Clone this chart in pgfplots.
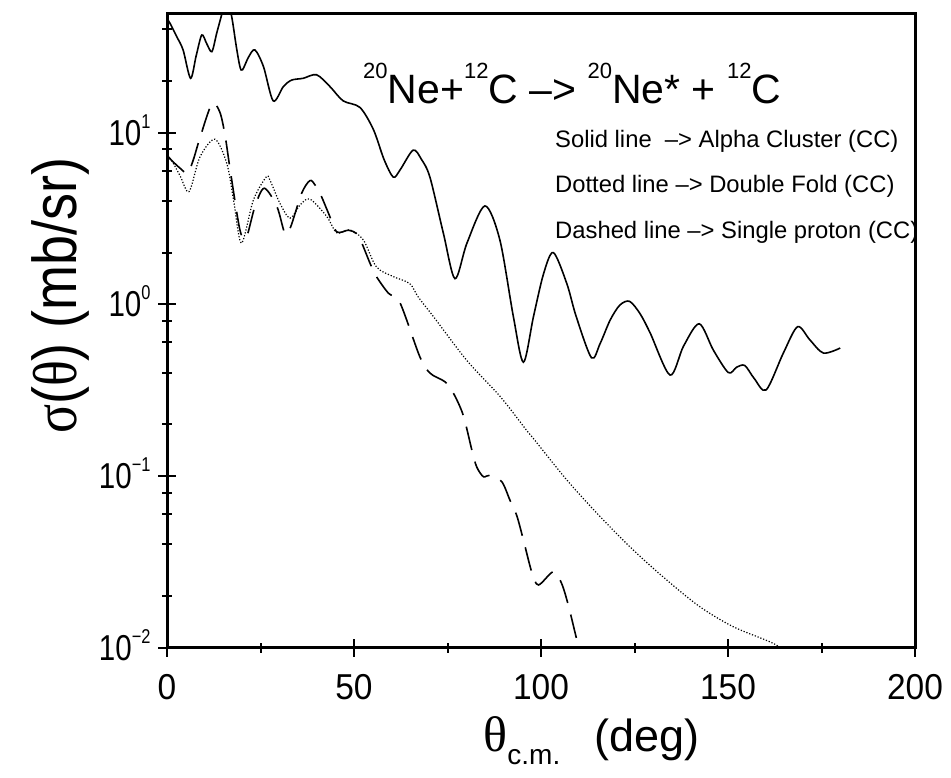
\documentclass[border=0pt]{standalone}
\usepackage{pgfplots}
\pgfplotsset{compat=1.18}
\usepackage{fontspec}
\setmainfont{Liberation Sans}
\newfontfamily\symf{Liberation Serif}
\newfontfamily\condlab{Liberation Sans}[FakeStretch=0.87]
\newfontfamily\condsymf{Liberation Serif}[FakeStretch=0.87]
\newfontfamily\condtick{Liberation Sans}[FakeStretch=0.93]
\newfontfamily\condytick{Liberation Sans}[FakeStretch=0.82]
\newcommand{\fs}[1]{\fontsize{#1}{#1}\selectfont}
\newcommand{\tl}[1]{10\raisebox{17pt}{\fs{20}#1}}

\begin{document}
\begin{tikzpicture}[x=1pt,y=1pt]
\useasboundingbox (0,0) rectangle (951,778);
\begin{axis}[
  at={(167pt,130.3pt)}, anchor=south west,
  scale only axis, width=748pt, height=634.4pt,
  xmin=0, xmax=200, ymode=log, ymin=0.01, ymax=49.5,
  axis line style={line width=3pt},
  xtick={0,50,100,150,200}, xticklabels={0,50,100,150,200},
  minor xtick={25,75,125,175},
  ytick={0.01,0.1,1,10},
  yticklabels={\tl{−2},\tl{−1},\tl{0},\tl{1}},
  minor ytick={0.02,0.04,0.06,0.08,0.2,0.4,0.6,0.8,2,4,6,8,20,40},
  tick align=center, tick pos=left,
  major tick length=18pt, minor tick length=10pt,
  every tick/.append style={line width=2pt, black},
  xticklabel style={font=\condtick\fs{36}, anchor=north, yshift=-14pt},
  yticklabel style={font=\condytick\fs{36}, anchor=base east, yshift=-12.5pt, xshift=-4pt},
  xlabel={{\symf\fs{50}θ}\raisebox{-13pt}{\fs{28}c.m.}\hspace{34pt}{\fs{45}(deg)}},
  xlabel style={at={(axis description cs:0.4184,-0.163)}, anchor=base west},
  ylabel={{\condsymf σ}({\condsymf θ}) (mb/sr)},
  ylabel style={font=\condlab\fs{62}, at={(axis description cs:-0.143,0.555)}, anchor=center},
]
% Solid line: Alpha Cluster (CC)
\addplot[black, line width=1.6pt, smooth] coordinates {
(0,46) (0.8,43.3) (2.6,36.2) (4.3,30.3) (6.3,20.7) (7.8,28) (9.3,37) (10.6,33)
(12.0,29.6) (13.3,38) (14.6,48.4) (15.9,62) (17.3,47.3) (18.5,32) (19.5,24.2)
(20.2,23.2) (21.8,27.5) (23.5,30.3) (25.8,24.2) (28.4,15.3) (31.1,18.5) (33.3,20.2)
(36.4,20.7) (40.0,21.7) (43.6,18.5) (47.1,15.3) (51.6,14.0) (55.2,10.4) (58.0,7.0)
(60.5,5.5) (62.3,6.05) (65.8,7.9) (68.0,7.0) (70.3,5.5) (73.9,2.59) (77.0,1.41)
(80.2,2.27) (85.0,3.74) (89.0,2.37) (92.6,0.85) (95.3,0.46) (98.0,0.85) (100.7,1.51)
(103.3,2.0) (106.9,1.32) (109.4,0.85) (113.5,0.488) (115.8,0.59) (118.5,0.81)
(121.1,0.99) (123.7,1.04) (126.5,0.88) (129.2,0.68) (134.5,0.387) (138.1,0.57)
(142.3,0.77) (146.1,0.54) (150.1,0.40) (152.3,0.43) (154.5,0.44) (157.0,0.37)
(160.2,0.317) (164.8,0.52) (168.6,0.74) (171.9,0.62) (175.5,0.52) (180,0.556)
};
% Dotted line: Double Fold (CC)
\addplot[black, line width=1.2pt, dash pattern=on 1.2pt off 1.8pt, smooth] coordinates {
(0,7.2) (1.2,6.9) (3.5,5.6) (5.9,4.53) (8.8,7.2) (12.8,9.15) (16.0,6.6) (17.8,4.05)
(19.9,2.27) (23.1,4.05) (26.5,5.5) (27.5,5.3) (30.2,3.87) (32.9,3.17) (35.6,3.79)
(38.2,4.1) (42.7,3.25) (45.4,2.61) (48.9,2.71) (52.5,2.37) (56.0,1.65) (60.5,1.45)
(64.9,1.32) (67.2,1.1) (71.2,0.85) (80.2,0.47) (89.1,0.29) (96.1,0.185) (98.0,0.165)
(106.9,0.0948) (115.8,0.058) (124.7,0.037) (133.6,0.0248) (142.5,0.0173)
(151.4,0.01325) (162.1,0.0106) (166,0.0092)
};
% Dashed line: Single proton (CC)
\addplot[black, line width=1.6pt, dash pattern=on 24pt off 12pt, smooth] coordinates {
(0,7.4) (1.2,6.9) (3.5,6.2) (5.5,5.8) (7.0,6.9) (8.8,9.3) (12.0,14.7) (14.1,13.2)
(15.5,9.7) (16.9,6.05) (19.5,2.71) (21.2,2.45) (23.5,3.7) (26.0,4.74) (29.4,3.7)
(31.5,2.6) (33.0,2.8) (36.0,4.43) (38.2,5.25) (39.6,4.95) (41.3,4.24) (43.2,3.38)
(45.4,2.64) (48.5,2.70) (50.7,2.58) (52.1,2.27) (54.3,1.73) (56.0,1.45) (59.2,1.16)
(62.3,1.02) (67.6,0.495) (70.4,0.396) (74.3,0.354) (76.6,0.303) (79.2,0.226)
(81.5,0.142) (82.8,0.113) (84.6,0.099) (86.3,0.101) (89.5,0.0927) (91.7,0.0723)
(93.5,0.059) (95.3,0.0424) (97.5,0.0277) (99.3,0.0232) (103.3,0.0277) (105.5,0.0237)
(107.3,0.0177) (109.5,0.0113) (110.5,0.0095) (111.5,0.0082)
};
\end{axis}
\node[anchor=base west, inner sep=0] at (363,674.7)
  {\fs{41}\raisebox{25pt}{\fs{22}20}Ne+\raisebox{25pt}{\fs{22}12}C –> \raisebox{25pt}{\fs{22}20}Ne* + \raisebox{25pt}{\fs{22}12}C};
\node[anchor=base west, inner sep=0] at (555,630) {\fs{23.8}Solid line \ –> Alpha Cluster (CC)};
\node[anchor=base west, inner sep=0] at (555,585) {\fs{23.8}Dotted line –> Double Fold (CC)};
\node[anchor=base west, inner sep=0] at (555,539) {\fs{23.8}Dashed line –> Single proton (CC)};
\end{tikzpicture}
\end{document}
